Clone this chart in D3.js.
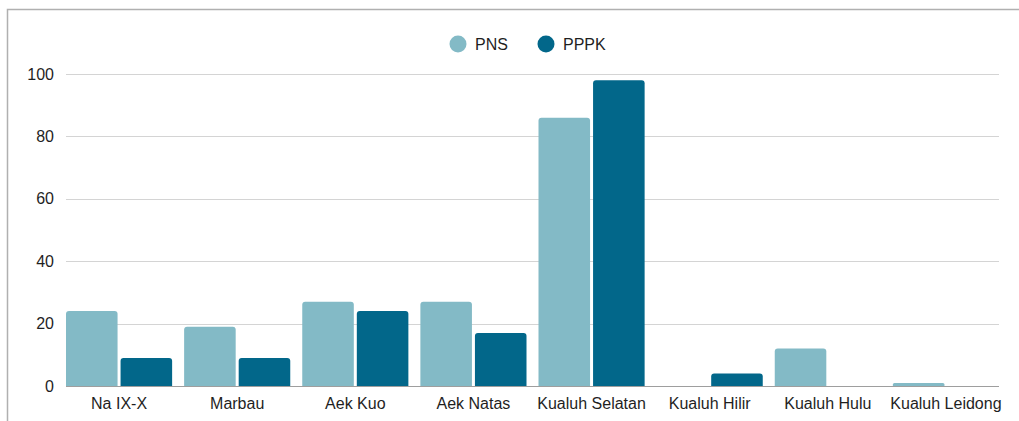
<!DOCTYPE html>
<html>
<head>
<meta charset="utf-8">
<script src="https://cdn.jsdelivr.net/npm/d3@7"></script>
<style>
  body { margin: 0; background: #fff; }
  svg { display: block; font-family: "Liberation Sans", Arial, sans-serif; }
</style>
</head>
<body>
<div id="chart"></div>
<script>
// chart data
var categories = ["Na IX-X", "Marbau", "Aek Kuo", "Aek Natas", "Kualuh Selatan", "Kualuh Hilir", "Kualuh Hulu", "Kualuh Leidong"];
var seriesNames = ["PNS", "PPPK"];
var pnsValues = [24, 19, 27, 27, 86, 0, 12, 1];
var pppkValues = [9, 9, 24, 17, 98, 4, 0, 0];
var yTicks = [0, 20, 40, 60, 80, 100];
var seriesColors = ["#83bac6", "#02678a"];

var w = 1019, h = 421;

var svg = d3.select("#chart")
  .append("svg")
  .attr("width", w)
  .attr("height", h);

// frame (only top and left edges visible in the crop)
svg.append("path")
  .attr("d", "M7.5," + h + "V9.5H" + w)
  .attr("fill", "none")
  .attr("stroke", "#b0b0b0")
  .attr("stroke-width", 1.5);

var x = d3.scaleBand()
  .domain(categories)
  .range([60, 1005]);

var inner = d3.scaleBand()
  .domain(seriesNames)
  .range([6, x.bandwidth() - 6])
  .paddingInner(0.055);

var y = d3.scaleLinear()
  .domain([0, 100])
  .range([386, 74]);

// gridlines
svg.append("g")
  .selectAll("line")
  .data(yTicks)
  .join("line")
  .attr("x1", 66)
  .attr("x2", 999)
  .attr("y1", function (d) { return Math.round(y(d)) + 0.5; })
  .attr("y2", function (d) { return Math.round(y(d)) + 0.5; })
  .attr("stroke", function (d) { return d === 0 ? "#9e9e9e" : "#d4d4d4"; })
  .attr("stroke-width", 1);

// y tick labels
svg.append("g")
  .selectAll("text")
  .data(yTicks)
  .join("text")
  .attr("x", 54)
  .attr("y", function (d) { return y(d); })
  .attr("dy", "0.35em")
  .attr("text-anchor", "end")
  .attr("font-size", 16)
  .attr("fill", "#1f1f1f")
  .text(function (d) { return d; });

// bars
var rows = categories.map(function (c, i) {
  return { cat: c, vals: [pnsValues[i], pppkValues[i]] };
});

var groups = svg.append("g")
  .selectAll("g")
  .data(rows)
  .join("g")
  .attr("transform", function (d) { return "translate(" + x(d.cat) + ",0)"; });

function barPath(x0, bw, top, bottom) {
  var r = Math.min(3, (bottom - top) / 2, bw / 2);
  return "M" + x0 + "," + bottom +
    "V" + (top + r) +
    "Q" + x0 + "," + top + " " + (x0 + r) + "," + top +
    "H" + (x0 + bw - r) +
    "Q" + (x0 + bw) + "," + top + " " + (x0 + bw) + "," + (top + r) +
    "V" + bottom + "Z";
}

groups.selectAll("path")
  .data(function (d) {
    return d.vals.map(function (v, k) { return { s: seriesNames[k], v: v, k: k }; });
  })
  .join("path")
  .filter(function (d) { return d.v > 0; })
  .attr("d", function (d) {
    return barPath(inner(d.s), inner.bandwidth(), y(d.v), y(0));
  })
  .attr("fill", function (d) { return seriesColors[d.k]; });

// x labels
svg.append("g")
  .selectAll("text")
  .data(categories)
  .join("text")
  .attr("x", function (d) { return x(d) + x.bandwidth() / 2; })
  .attr("y", 409)
  .attr("text-anchor", "middle")
  .attr("font-size", 16)
  .attr("fill", "#1f1f1f")
  .text(function (d) { return d; });

// legend
var legendItems = [
  { name: "PNS", cx: 458 },
  { name: "PPPK", cx: 546 }
];

var leg = svg.append("g")
  .selectAll("g")
  .data(legendItems)
  .join("g")
  .attr("transform", function (d) { return "translate(" + d.cx + ",44)"; });

leg.append("circle")
  .attr("r", 8.5)
  .attr("fill", function (d, i) { return seriesColors[i]; });

leg.append("text")
  .attr("x", 17)
  .attr("dy", "0.35em")
  .attr("font-size", 16)
  .attr("fill", "#1f1f1f")
  .text(function (d) { return d.name; });
</script>
</body>
</html>
